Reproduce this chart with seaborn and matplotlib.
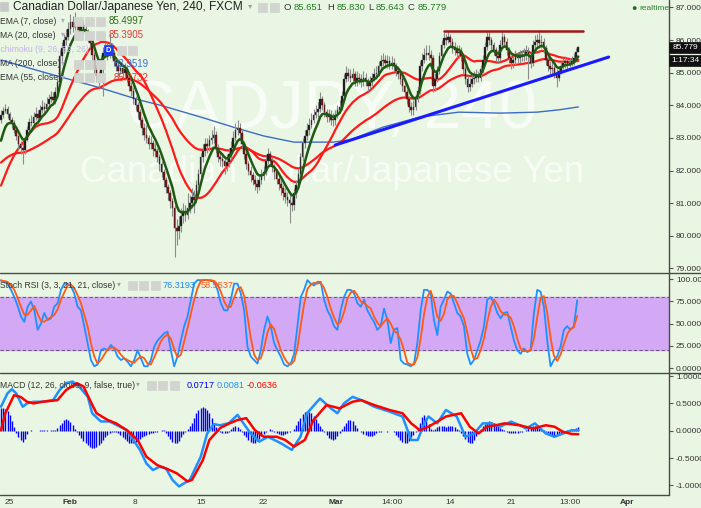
import numpy as np
import pandas as pd
import matplotlib
matplotlib.use("Agg")
import matplotlib.pyplot as plt
import seaborn as sns
from matplotlib.lines import Line2D
from matplotlib.patches import Rectangle

# ---------------- data (CADJPY, 4h bars) ----------------
# closes before the visible window (only used to warm up the moving averages)
pre_closes = [84.10, 84.00, 83.85, 83.95, 83.70, 83.60, 83.75, 83.50, 83.40, 83.55,
              83.30, 83.15, 83.25, 83.00, 82.90, 83.05, 82.80, 82.65, 82.75, 82.50,
              82.35, 82.45, 82.20, 82.05, 82.15, 81.90, 81.70, 81.80, 81.55, 81.35,
              81.45, 81.20, 81.00, 80.80, 80.60, 80.45, 80.55, 80.40, 80.50, 80.70,
              80.60, 80.80, 80.95, 80.85, 81.10, 81.30, 81.20, 81.50, 81.80, 82.10,
              82.50, 82.90, 83.30, 83.55]

closes = [83.70, 83.82, 83.90, 83.72, 83.55, 83.45, 83.25, 83.05, 82.80, 82.70,
          82.62, 82.95, 83.25, 83.50, 83.45, 83.65, 83.72, 83.60, 83.85, 83.95,
          83.90, 84.05, 84.20, 84.25, 84.15, 84.40, 84.70, 85.50, 85.75, 86.00,
          86.10, 86.35, 86.55, 86.40, 86.55, 86.45, 86.30, 86.45, 86.35, 86.25,
          86.10, 85.90, 85.55, 85.15, 84.90, 84.80, 85.40, 85.60, 85.70, 85.55,
          85.70, 85.60, 85.35, 85.20, 85.05, 85.15, 85.00, 85.10, 84.85, 84.60,
          84.45, 84.20, 84.00, 83.80, 83.55, 83.30, 83.10, 83.00, 82.80, 82.85,
          82.65, 82.60, 82.40, 82.20, 81.95, 81.70, 81.50, 81.30, 81.05, 80.85,
          80.25, 80.15, 80.30, 80.60, 80.75, 80.65, 80.85, 81.00, 81.20, 81.10,
          81.55, 81.90, 82.40, 82.60, 82.80, 82.75, 82.95, 83.00, 83.10, 82.70,
          82.40, 82.35, 82.30, 82.15, 82.25, 82.50, 82.70, 83.00, 83.25, 83.30,
          83.15, 82.80, 82.50, 82.20, 82.00, 81.85, 81.70, 81.60, 81.50, 81.70,
          81.85, 81.95, 82.30, 82.50, 82.30, 82.10, 81.95, 81.75, 81.60, 81.45,
          81.30, 81.20, 81.10, 81.00, 80.95, 81.30, 81.55, 81.90, 82.40, 82.85,
          83.05, 83.25, 83.40, 83.55, 83.70, 83.80, 83.90, 84.20, 84.00, 83.80,
          83.65, 83.70, 83.55, 83.55, 83.70, 83.85, 83.95, 84.30, 84.80, 85.00,
          84.90, 84.85, 84.95, 84.75, 84.85, 84.80, 84.70, 84.85, 84.75, 84.60,
          84.70, 84.85, 84.95, 85.00, 85.20, 85.35, 85.40, 85.30, 85.35, 85.25,
          85.30, 85.20, 85.05, 84.95, 84.80, 84.60, 84.40, 84.20, 83.95, 83.85,
          83.95, 84.20, 84.45, 85.20, 85.40, 85.55, 85.60, 85.55, 85.45, 84.60,
          84.80, 85.05, 85.50, 85.85, 86.05, 86.00, 86.10, 85.95, 85.75, 85.70,
          85.60, 85.65, 85.50, 85.10, 84.80, 84.55, 84.65, 84.80, 84.85, 84.90,
          84.85, 85.10, 85.40, 85.80, 86.10, 86.00, 85.85, 85.70, 85.50, 85.45,
          85.85, 86.10, 85.95, 85.70, 85.45, 85.30, 85.40, 85.50, 85.45, 85.55,
          85.50, 85.55, 85.65, 85.50, 85.30, 85.85, 85.95, 86.00, 85.90, 85.95,
          85.75, 85.40, 85.20, 85.10, 85.15, 85.00, 84.85, 85.05, 85.20, 85.30,
          85.35, 85.25, 85.30, 85.35, 85.45, 85.65, 85.78]

highs = [83.85, 83.95, 84.05, 83.98, 83.80, 83.65, 83.55, 83.35, 83.10, 82.90,
         82.85, 83.05, 83.35, 83.62, 83.70, 83.80, 83.95, 83.85, 84.00, 84.15,
         84.10, 84.25, 84.35, 84.45, 84.40, 84.55, 84.85, 85.70, 85.95, 86.20,
         86.35, 86.55, 86.80, 86.75, 86.85, 86.70, 86.60, 86.70, 86.60, 86.50,
         86.35, 86.20, 85.95, 85.65, 85.25, 85.05, 85.55, 85.80, 85.95, 85.90,
         86.20, 85.90, 85.70, 85.45, 85.30, 85.35, 85.25, 85.30, 85.20, 84.95,
         84.70, 84.55, 84.30, 84.10, 83.90, 83.65, 83.45, 83.40, 83.10, 83.05,
         82.95, 82.85, 82.70, 82.50, 82.30, 82.05, 81.80, 81.60, 81.40, 81.15,
         80.95, 80.50, 80.60, 80.85, 81.00, 80.95, 81.30, 81.25, 81.45, 81.40,
         81.70, 82.05, 82.55, 82.80, 83.00, 83.00, 83.10, 83.25, 83.35, 83.20,
         82.80, 82.60, 82.55, 82.45, 82.50, 82.70, 82.90, 83.20, 83.45, 83.55,
         83.45, 83.25, 82.90, 82.60, 82.30, 82.15, 81.95, 81.85, 81.75, 81.85,
         82.05, 82.15, 82.45, 82.70, 82.60, 82.40, 82.20, 82.05, 81.85, 81.70,
         81.55, 81.45, 81.35, 81.25, 81.20, 81.45, 81.70, 82.05, 82.55, 83.00,
         83.25, 83.45, 83.60, 83.75, 83.90, 84.00, 84.10, 84.40, 84.30, 84.10,
         83.90, 83.90, 83.85, 83.75, 83.85, 84.00, 84.15, 84.45, 84.95, 85.20,
         85.15, 85.10, 85.15, 85.05, 85.05, 85.00, 84.95, 85.05, 85.00, 84.85,
         84.90, 85.00, 85.15, 85.20, 85.35, 85.55, 85.60, 85.55, 85.55, 85.50,
         85.50, 85.45, 85.30, 85.20, 85.05, 84.90, 84.70, 84.50, 84.30, 84.10,
         84.15, 84.35, 84.60, 85.35, 85.60, 85.75, 85.85, 85.85, 85.70, 85.55,
         85.00, 85.20, 85.65, 86.00, 86.25, 86.20, 86.28, 86.20, 86.05, 85.95,
         85.85, 85.85, 85.80, 85.60, 85.20, 84.90, 84.85, 84.95, 85.05, 85.10,
         85.05, 85.25, 85.55, 85.95, 86.28, 86.25, 86.10, 85.95, 85.80, 85.70,
         86.00, 86.28, 86.20, 86.05, 85.80, 85.55, 85.60, 85.70, 85.65, 85.70,
         85.70, 85.75, 85.85, 85.80, 85.60, 86.00, 86.15, 86.20, 86.30, 86.15,
         86.05, 85.85, 85.50, 85.35, 85.35, 85.25, 85.10, 85.20, 85.35, 85.45,
         85.50, 85.45, 85.45, 85.50, 85.60, 85.75, 85.83]

lows = [83.45, 83.62, 83.75, 83.62, 83.45, 83.30, 83.15, 82.95, 82.65, 82.50,
        82.20, 82.50, 82.90, 83.20, 83.35, 83.40, 83.55, 83.45, 83.55, 83.75,
        83.78, 83.85, 83.95, 84.10, 84.00, 84.05, 84.30, 84.60, 85.35, 85.60,
        85.85, 86.00, 86.20, 86.25, 86.30, 86.30, 86.15, 86.20, 86.20, 86.10,
        85.95, 85.75, 85.40, 85.00, 84.70, 84.55, 84.70, 84.30, 85.45, 85.40,
        85.45, 85.45, 85.20, 85.05, 84.90, 84.95, 84.85, 84.90, 84.70, 84.45,
        84.30, 84.05, 83.85, 83.60, 83.40, 83.10, 82.95, 82.85, 82.65, 82.65,
        82.45, 82.40, 82.25, 82.00, 81.80, 81.50, 81.30, 81.10, 80.85, 80.60,
        79.35, 79.70, 79.90, 80.10, 80.40, 80.45, 80.50, 80.70, 80.85, 80.70,
        81.00, 81.45, 81.80, 82.25, 82.45, 82.55, 82.60, 82.80, 82.85, 82.55,
        82.25, 82.15, 82.10, 81.90, 82.00, 82.10, 82.35, 82.60, 82.90, 83.10,
        83.00, 82.65, 82.35, 82.05, 81.85, 81.65, 81.55, 81.40, 81.30, 81.40,
        81.60, 81.70, 81.85, 82.20, 82.15, 81.95, 81.75, 81.60, 81.40, 81.25,
        81.10, 81.00, 80.90, 80.40, 80.75, 80.80, 81.15, 81.45, 81.80, 82.30,
        82.70, 82.95, 83.10, 83.30, 83.45, 83.60, 83.65, 83.80, 83.85, 83.65,
        83.50, 83.50, 83.40, 83.35, 83.40, 83.60, 83.75, 83.85, 84.20, 84.70,
        84.75, 84.70, 84.70, 84.60, 84.60, 84.65, 84.55, 84.60, 84.60, 84.45,
        84.50, 84.60, 84.75, 84.80, 84.90, 85.10, 85.20, 85.15, 85.15, 85.10,
        85.10, 85.05, 84.90, 84.80, 84.65, 84.45, 84.25, 84.05, 83.80, 83.70,
        83.70, 83.85, 84.10, 84.35, 85.05, 85.30, 85.40, 85.40, 85.30, 84.40,
        84.45, 84.70, 84.95, 85.40, 85.75, 85.85, 85.90, 85.80, 85.60, 85.55,
        85.45, 85.45, 85.35, 84.95, 84.65, 84.40, 84.45, 84.55, 84.65, 84.70,
        84.70, 84.75, 85.00, 85.30, 85.70, 85.85, 85.70, 85.55, 85.35, 85.30,
        85.35, 85.75, 85.80, 85.55, 85.30, 85.10, 85.15, 85.25, 85.30, 85.30,
        85.35, 85.35, 85.40, 84.80, 85.15, 85.20, 85.75, 85.80, 85.75, 85.75,
        85.60, 85.25, 85.05, 84.95, 84.95, 84.85, 84.55, 84.75, 84.95, 85.10,
        85.15, 85.10, 85.15, 85.20, 85.25, 85.40, 85.64]

# 200-period MA (bar index, price)
ma200_bars = [0, 21, 46, 64, 73, 92, 107, 121, 135, 153, 161, 176, 193, 211, 230, 247, 257, 266]
ma200_vals = [85.39, 84.99, 84.53, 84.16, 84.01, 83.64, 83.33, 83.06, 82.87, 82.87,
              82.94, 83.33, 83.64, 83.79, 83.76, 83.79, 83.86, 83.95]

# drawn trend lines
trend_bars = [154, 280]
trend_prices = [82.78, 85.48]
resist_bars = [204, 268]
resist_prices = [86.28, 86.28]

# Stoch RSI, sampled evenly across the bars
stoch_k = [99, 97, 95, 88, 80, 70, 58, 52, 69, 75,
           65, 43, 50, 62, 54, 56, 69, 73, 88, 95,
           95, 92, 84, 69, 65, 47, 28, 9, 2, 4,
           20, 22, 20, 26, 22, 13, 9, 11, 7, 2,
           9, 20, 11, 2, 2, 9, 24, 31, 35, 39,
           41, 20, 2, 13, 31, 47, 58, 77, 95, 99,
           99, 99, 99, 98, 97, 88, 73, 65, 65, 77,
           95, 95, 84, 65, 24, 13, 9, 5, 20, 43,
           58, 47, 28, 20, 13, 4, 2, 5, 16, 47,
           80, 88, 99, 95, 93, 97, 97, 77, 65, 58,
           47, 43, 65, 80, 88,
           88, 84, 73, 69, 77, 65, 58, 52, 43, 47,
           67, 54, 28, 43, 45, 9, 5, 4, 2, 5,
           28, 65, 88, 88, 84, 54, 37, 69, 77, 86,
           84, 73, 62, 58, 47, 16, 4, 9, 20, 31,
           47, 77, 80, 73, 62, 56, 62, 63, 47, 31,
           20, 16, 22, 18, 20, 62, 88, 86, 69, 31,
           2, 9, 13, 24, 43, 47, 43, 47, 76.3]
stoch_d = [98, 98, 97, 93, 88, 79, 69, 60, 60, 65,
           70, 61, 53, 52, 55, 57, 60, 66, 77, 85,
           93, 94, 90, 82, 73, 60, 47, 28, 13, 5,
           9, 15, 21, 23, 23, 20, 15, 11, 9, 7,
           6, 10, 13, 11, 5, 4, 12, 21, 30, 35,
           38, 33, 21, 12, 15, 30, 45, 61, 77, 90,
           98, 99, 99, 99, 98, 94, 86, 75, 68, 69,
           79, 89, 91, 81, 58, 34, 15, 9, 11, 23,
           40, 49, 44, 32, 20, 12, 6, 4, 8, 23,
           48, 72, 89, 94, 96, 95, 96, 90, 80, 67,
           57, 49, 52, 63, 78,
           85, 87, 82, 75, 73, 70, 67, 58, 51, 47,
           52, 56, 50, 42, 39, 32, 20, 6, 4, 4,
           12, 33, 60, 80, 87, 75, 58, 53, 61, 77,
           82, 81, 73, 64, 56, 40, 22, 10, 11, 20,
           33, 52, 68, 77, 72, 64, 60, 60, 57, 47,
           33, 22, 19, 19, 20, 33, 57, 79, 81, 62,
           34, 14, 8, 15, 27, 38, 44, 46, 58.6]

# MACD line / signal (bar index, value) and histogram per bar
macd_bars = [0, 3, 5, 7, 10, 12, 15, 19, 24, 27, 30, 33, 36, 40, 42, 46, 50, 55, 58, 61,
             64, 67, 70, 73, 76, 79, 82, 87, 92, 95, 98, 101, 105, 109, 115, 119, 123, 129,
             134, 138, 141, 147, 152, 155, 158, 162, 166, 172, 179, 185, 189, 192, 195, 197,
             201, 205, 210, 214, 218, 222, 226, 230, 235, 239, 242, 246, 251, 255, 259, 263, 266]
macd_vals = [0.44, 0.685, 0.76, 0.685, 0.44, 0.50, 0.53, 0.53, 0.56, 0.745, 0.87, 0.90, 0.81,
             0.62, 0.32, 0.17, 0.17, 0.07, 0.01, -0.17, -0.35, -0.60, -0.72, -0.66, -0.69,
             -0.90, -1.02, -0.90, -0.48, -0.05, 0.12, 0.10, 0.14, 0.29, -0.05, -0.20, -0.11,
             -0.23, -0.35, -0.11, 0.32, 0.59, 0.41, 0.32, 0.50, 0.62, 0.56, 0.44, 0.35, 0.26,
             -0.17, -0.17, 0.135, 0.26, 0.135, 0.38, 0.26, -0.11, -0.05, 0.135, 0.135, 0.074,
             0.166, 0.10, 0.04, 0.135, -0.05, -0.11, -0.05, 0.01, 0.008]
signal_bars = [0, 2, 6, 9, 12, 15, 19, 26, 30, 35, 38, 41, 44, 49, 53, 58, 63, 67, 72, 76,
               81, 86, 88, 93, 96, 101, 105, 109, 113, 117, 121, 127, 131, 135, 140, 144, 150,
               156, 162, 166, 172, 179, 185, 189, 193, 197, 201, 205, 212, 216, 220, 224, 228,
               232, 239, 245, 251, 255, 259, 263, 266]
signal_vals = [0.01, 0.32, 0.65, 0.62, 0.53, 0.50, 0.53, 0.56, 0.745, 0.87, 0.81, 0.56, 0.32,
               0.20, 0.135, 0.01, -0.17, -0.476, -0.63, -0.69, -0.78, -0.93, -0.90, -0.54,
               -0.17, 0.05, 0.13, 0.196, 0.23, 0.01, -0.11, -0.11, -0.17, -0.29, -0.17, 0.196,
               0.47, 0.41, 0.53, 0.56, 0.47, 0.38, 0.32, 0.135, 0.01, 0.074, 0.166, 0.26, 0.32,
               0.074, -0.05, 0.074, 0.10, 0.135, 0.10, 0.04, 0.10, 0.074, -0.02, -0.06, -0.0636]
hist = [0.42, 0.42, 0.40, 0.36, 0.28, 0.18, 0.06,
        -0.05, -0.12, -0.17, -0.20, -0.15, -0.06,
        0.00, 0.01, 0.00, -0.01, 0.00, 0.01, 0.02, 0.02, 0.01, 0.00, 0.01, 0.01, 0.02,
        0.05, 0.10, 0.15, 0.19, 0.21, 0.20, 0.16, 0.10, 0.03,
        -0.03, -0.08, -0.13, -0.18, -0.22, -0.26, -0.29, -0.31, -0.32, -0.30, -0.27, -0.22,
        -0.17, -0.12, -0.08, -0.05,
        -0.03, -0.02, -0.03,
        -0.05, -0.08, -0.12, -0.16, -0.19, -0.22, -0.23, -0.23, -0.21, -0.18, -0.15, -0.12,
        -0.10, -0.08, -0.06, -0.05, -0.04, -0.03, -0.02, -0.01,
        0.02, 0.01,
        -0.04, -0.09, -0.15, -0.20, -0.23, -0.22, -0.18, -0.12, -0.06, -0.02,
        0.03, 0.08, 0.15, 0.24, 0.32, 0.38, 0.42, 0.43, 0.42, 0.38, 0.32, 0.24, 0.15, 0.07, 0.02,
        -0.02, -0.04, -0.05, -0.04, -0.02,
        0.03, 0.06, 0.08, 0.07, 0.03,
        -0.03, -0.07, -0.12, -0.17, -0.21, -0.23, -0.22, -0.19, -0.15, -0.10, -0.06, -0.03, -0.01,
        0.03, 0.02,
        -0.02, -0.04, -0.06, -0.07, -0.07, -0.06, -0.05, -0.03, -0.01,
        0.04, 0.10, 0.17, 0.24, 0.30, 0.34, 0.36, 0.35, 0.32, 0.27, 0.21, 0.14, 0.08, 0.03,
        -0.03, -0.08, -0.13, -0.16, -0.17, -0.15, -0.10, -0.05,
        0.03, 0.08, 0.14, 0.19, 0.20, 0.17, 0.11, 0.05,
        -0.01, -0.03, -0.06, -0.08, -0.10, -0.10, -0.09, -0.07, -0.05, -0.03, -0.02, -0.01,
        0.00, -0.02, -0.01, 0.00,
        -0.03, -0.07, -0.12, -0.17, -0.21, -0.23, -0.22, -0.18, -0.12, -0.07, -0.02,
        0.05, 0.15, 0.25, 0.28, 0.22, 0.12,
        0.04, 0.01, 0.03,
        0.06, 0.08, 0.09, 0.08, 0.07, 0.08, 0.09, 0.08, 0.06, 0.04, 0.02,
        -0.04, -0.09, -0.15, -0.20, -0.23, -0.22, -0.17, -0.10, -0.04,
        0.03, 0.08, 0.13, 0.16, 0.17, 0.16, 0.14, 0.11, 0.08, 0.05, 0.03, 0.01,
        -0.02, -0.04, -0.05, -0.05, -0.05, -0.04, -0.03, -0.02, -0.01,
        0.02, 0.05, 0.07, 0.08, 0.08, 0.07, 0.05, 0.03, 0.01,
        -0.02, -0.05, -0.08, -0.10, -0.11, -0.10, -0.08, -0.06, -0.03, -0.01,
        0.01, 0.02, 0.03, 0.04, 0.05, 0.07]

# date axis
tick_bars = [3.7, 31.8, 61.8, 92.2, 120.7, 154.4, 180.2, 206.9, 235.0, 262.2, 288.5]
tick_labels = ["25", "Feb", "8", "15", "22", "Mar", "14:00", "14", "21", "13:00", "Apr"]
bold_labels = ["Feb", "Mar", "Apr"]

# ---------------- derived series ----------------
n = len(closes)
bars = np.arange(n)
full = pd.Series(pre_closes + closes)
ema7 = full.ewm(span=7, adjust=False).mean().values[-n:]
ma20 = full.rolling(20).mean().values[-n:]
ema55 = full.ewm(span=55, adjust=False).mean().values[-n:]
c = np.array(closes)
o = np.array([pre_closes[-1]] + closes[:-1])
hi = np.array(highs)
lo = np.array(lows)

# ---------------- figure ----------------
W, H = 701, 508
BG = "#e9f6e3"
XL = (-0.46, 307.8)

sns.set_theme(style="white")
plt.rcParams["font.family"] = ["Liberation Sans", "DejaVu Sans"]

fig = plt.figure(figsize=(W / 100, H / 100), dpi=100, facecolor=BG)


def fx(x):
    return x / W


def fy(y):
    return 1 - y / H


def make_axes(top, bottom):
    ax = fig.add_axes([0, fy(bottom), 669 / W, (bottom - top) / H])
    ax.set_facecolor(BG)
    for s in ax.spines.values():
        s.set_visible(False)
    ax.set_xlim(*XL)
    ax.yaxis.tick_right()
    ax.tick_params(axis="y", length=3, width=0.8, color="#555555", pad=2,
                   labelsize=6, labelcolor="#333333")
    return ax


ax_p = make_axes(0, 273)
ax_s = make_axes(273, 373)
ax_m = make_axes(373, 495)

# ---- price panel ----
ax_p.set_ylim(78.856, 87.23)
ax_p.set_yticks(range(79, 88))
ax_p.set_yticklabels([f"{v:.3f}" for v in range(79, 88)])
ax_p.set_xticks([])

ax_p.text(fx(331), fy(110), "CADJPY, 240", transform=fig.transFigure, ha="center",
          va="center", fontsize=49, color="white", alpha=0.7, zorder=0.5)
ax_p.text(fx(332), fy(172), "Canadian Dollar/Japanese Yen", transform=fig.transFigure,
          ha="center", va="center", fontsize=26.5, color="white", alpha=0.7, zorder=0.5)

sns.lineplot(x=ma200_bars, y=ma200_vals, ax=ax_p, color="#3d6cc4", linewidth=1.0, zorder=1.5)
sns.lineplot(x=bars, y=ema55, ax=ax_p, color="#ff1a1a", linewidth=1.6, zorder=1.6)
sns.lineplot(x=bars, y=ma20, ax=ax_p, color="#ff1a1a", linewidth=1.6, zorder=1.7)

up = c >= o
body_lo = np.minimum(o, c)
body_h = np.maximum(np.abs(c - o), 0.03)
ax_p.vlines(bars, lo, hi, color="#8c8c8c", linewidth=0.8, zorder=2)
ax_p.bar(bars[up], body_h[up], bottom=body_lo[up], width=0.75, color="#111111",
         edgecolor="#555555", linewidth=0.3, zorder=3)
ax_p.bar(bars[~up], body_h[~up], bottom=body_lo[~up], width=0.75, color="#8b1010",
         edgecolor="#222222", linewidth=0.3, zorder=3)

sns.lineplot(x=bars, y=ema7, ax=ax_p, color="#1f5a12", linewidth=1.8, zorder=4)
sns.lineplot(x=trend_bars, y=trend_prices, ax=ax_p, color="#1a1aff", linewidth=2.2, zorder=4.5)
sns.lineplot(x=resist_bars, y=resist_prices, ax=ax_p, color="#a31515", linewidth=1.8, zorder=4.5)

# ---- stoch rsi panel ----
stoch_x = np.linspace(0, 265.5, len(stoch_k))
ax_s.set_ylim(-5.6, 107)
ax_s.set_yticks([0, 25, 50, 75, 100])
ax_s.set_yticklabels(["0.0000", "25.0000", "50.0000", "75.0000", "100.0000"])
ax_s.set_xticks([])
ax_s.axhspan(20, 80, color="#d3a9f5", zorder=0.5)
ax_s.axhline(80, color="#6e5a7e", linewidth=0.8, linestyle=(0, (3, 2)), zorder=0.6)
ax_s.axhline(20, color="#6e5a7e", linewidth=0.8, linestyle=(0, (3, 2)), zorder=0.6)
sns.lineplot(x=stoch_x, y=stoch_k, ax=ax_s, color="#1e90ff", linewidth=1.3, zorder=2)
sns.lineplot(x=stoch_x, y=stoch_d, ax=ax_s, color="#ff5a14", linewidth=1.3, zorder=2.1)

# ---- macd panel ----
ax_m.set_ylim(-1.177, 1.057)
ax_m.set_yticks([-1.0, -0.5, 0.0, 0.5, 1.0])
ax_m.set_yticklabels(["-1.0000", "-0.5000", "0.0000", "0.5000", "1.0000"])
ax_m.vlines(bars, 0, hist, color="#0000ff", linewidth=1.0, zorder=1)
sns.lineplot(x=macd_bars, y=macd_vals, ax=ax_m, color="#1e90ff", linewidth=1.8, zorder=2)
sns.lineplot(x=signal_bars, y=signal_vals, ax=ax_m, color="#ff0000", linewidth=1.8, zorder=2.1)
ax_m.set_xticks(tick_bars)
ax_m.set_xticklabels(tick_labels)
ax_m.tick_params(axis="x", length=0, pad=3, labelsize=6, labelcolor="#333333")
for t in ax_m.get_xticklabels():
    if t.get_text() in bold_labels:
        t.set_fontweight("bold")

# ---- frame lines ----
def hline(y, x0, x1, color="#4a4a4a", lw=1.0):
    fig.add_artist(Line2D([fx(x0), fx(x1)], [fy(y), fy(y)], color=color, linewidth=lw))


hline(273, 0, 701)
hline(373, 0, 701)
hline(495, 0, 669)
fig.add_artist(Line2D([fx(669), fx(669)], [fy(0), fy(495)], color="#4a4a4a", linewidth=1.0))


def box(x0, y0, x1, y1, fc, ec=None):
    fig.add_artist(Rectangle((fx(x0), fy(y1)), (x1 - x0) / W, (y1 - y0) / H,
                             transform=fig.transFigure, facecolor=fc,
                             edgecolor=ec or fc, linewidth=0.5, zorder=5))


def label(x, y, s, size=6.2, color="#333333", ha="left", weight="normal"):
    fig.text(fx(x), fy(y), s, fontsize=size, color=color, ha=ha, va="center",
             fontweight=weight, zorder=6)


def icons(xs, y):
    for x0 in xs:
        box(x0, y - 4.5, x0 + 8.5, y + 4.5, "#d2d4d0")


VAL = 6.6  # size of the numeric readouts

# header row
box(0, 2, 8, 11, "#c8c8c8")
label(13, 7, "Canadian Dollar/Japanese Yen, 240, FXCM", size=8.6, color="#222222")
label(248, 7, "▾", size=6, color="#a0a0a0")
icons([258, 270], 7)
green = "#237a23"
for x, s, col in [(283, "O", "#333333"), (294, "85.651", green), (327, "H", "#333333"),
                  (337, "85.830", green), (368, "L", "#333333"), (376, "85.643", green),
                  (408, "C", "#333333"), (418, "85.779", green)]:
    label(x, 7, s, size=6.8, color=col)
label(634, 8, "●", size=6.5, color="#1e6b1e", ha="center")
label(639, 8, "realtime", size=6, color="#2e7d32")

# indicator legend rows
rows = [
    (21, "EMA (7, close)", "85.4997", "#33691e", 109),
    (35, "MA (20, close)", "85.3905", "#e53935", 109),
    (64, "MA (200, close)", "83.9519", "#3a6fd8", 114),
    (78, "EMA (55, close)", "85.3732", "#ff2a2a", 114),
]
for y, name, val, col, vx in rows:
    label(0, y, name)
    label(61, y, "▾", size=5.5, color="#b0a8c8")
    icons([74, 85, 96], y)
    label(vx, y, val, size=VAL + 0.4, color=col)
label(-2, 50, "Ichimoku (9, 26, 52, 26)", color="#c6b3ea")
box(104, 45, 113, 55, "#1b3ef5")
label(108.5, 50, "D", size=5.5, color="white", ha="center", weight="bold")
icons([117, 128], 50)

# right price labels
box(669, 42, 701, 53, "#111111")
label(685, 47.5, "85.779", size=6, color="white", ha="center")
box(669, 55, 701, 66, "#111111")
label(685, 60.5, "1:17:34", size=6, color="white", ha="center")

# stoch header
label(0, 285, "Stoch RSI (3, 3, 21, 21, close)")
label(117, 285, "▾", size=5.5, color="#a0a0a0")
icons([128, 139, 151], 285)
label(163, 285, "76.3193", size=VAL, color="#1e88e5")
label(201, 285, "58.5537", size=VAL, color="#ff5722")

# macd header
label(0, 385, "MACD (12, 26, close, 9, false, true)")
label(136, 385, "▾", size=5.5, color="#a0a0a0")
icons([147, 158, 170], 385)
label(187, 385, "0.0717", size=VAL, color="#0000ff")
label(217, 385, "0.0081", size=VAL, color="#1e90ff")
label(247, 385, "-0.0636", size=VAL, color="#ff0000")

fig.savefig("out.png", dpi=100, facecolor=BG)
